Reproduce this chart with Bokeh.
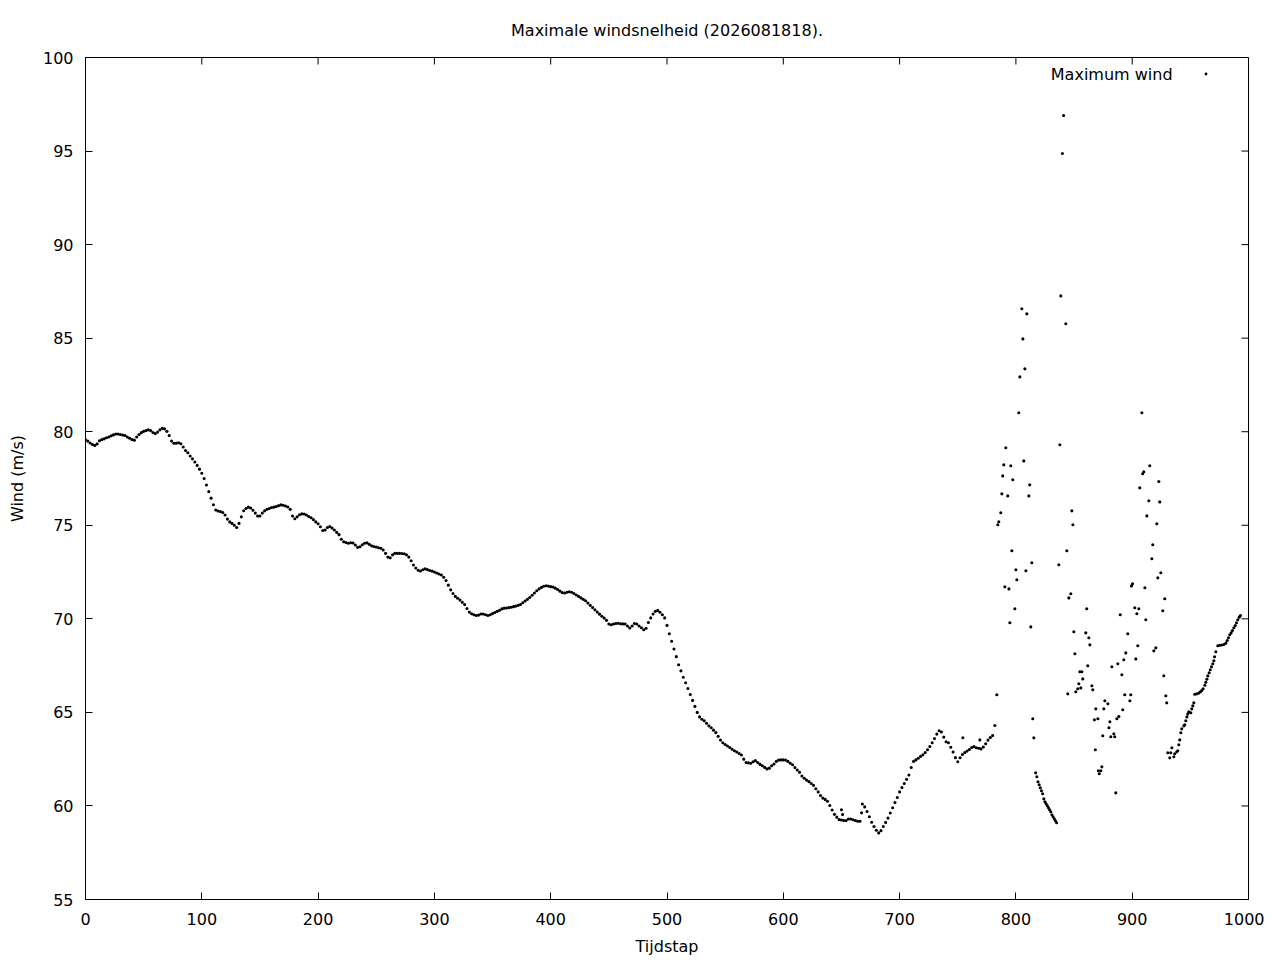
import math
from bokeh.plotting import figure
from bokeh.models import (Range1d, FixedTicker, Label, Legend,
                          LegendItem, ColumnDataSource)
from bokeh.embed import file_html
from bokeh.resources import INLINE

title_text = "Maximale windsnelheid (2026081818)."
x_label = "Tijdstap"
y_label = "Wind (m/s)"
series_name = "Maximum wind"

x_min, x_max = 0, 1000
y_min, y_max = 55, 100
x_ticks = [0, 100, 200, 300, 400, 500, 600, 700, 800, 900, 1000]
y_ticks = [55, 60, 65, 70, 75, 80, 85, 90, 95, 100]

# smooth part, every second time step (0..780)
smooth_t = list(range(0, 781, 2))
smooth_wind = [
    79.57, 79.5, 79.4, 79.32, 79.27, 79.35, 79.52, 79.58, 79.62, 79.68,
    79.72, 79.78, 79.83, 79.88, 79.88, 79.85, 79.82, 79.8, 79.72, 79.65,
    79.58, 79.55, 79.72, 79.85, 79.95, 80.02, 80.06, 80.1, 80.06, 79.96,
    79.9, 79.98, 80.1, 80.18, 80.15, 80.02, 79.8, 79.5, 79.38, 79.39,
    79.41, 79.36, 79.18, 79.0, 78.88, 78.7, 78.55, 78.38, 78.2, 78.0,
    77.78, 77.5, 77.15, 76.8, 76.45, 76.1, 75.82, 75.76, 75.73, 75.68,
    75.55, 75.33, 75.18, 75.1, 75.0, 74.88, 75.1, 75.45, 75.78, 75.9,
    75.97, 75.92, 75.8, 75.65, 75.5, 75.5, 75.65, 75.77, 75.85, 75.9,
    75.95, 75.97, 76.0, 76.05, 76.09, 76.07, 76.03, 75.98, 75.85, 75.5,
    75.35, 75.45, 75.56, 75.61, 75.6, 75.55, 75.47, 75.4, 75.3, 75.18,
    75.08, 74.92, 74.72, 74.75, 74.88, 74.93, 74.85, 74.75, 74.62, 74.5,
    74.25, 74.12, 74.08, 74.04, 74.07, 74.05, 73.95, 73.82, 73.85, 73.96,
    74.04, 74.06, 73.98, 73.9, 73.87, 73.84, 73.8, 73.77, 73.68, 73.5,
    73.3, 73.26, 73.42, 73.5, 73.5, 73.5, 73.49, 73.48, 73.42, 73.3,
    73.1, 72.88, 72.72, 72.6, 72.56, 72.62, 72.67, 72.63, 72.58, 72.55,
    72.5, 72.45, 72.4, 72.34, 72.22, 72.05, 71.8, 71.55, 71.35, 71.2,
    71.1, 71.0, 70.88, 70.76, 70.55, 70.36, 70.27, 70.22, 70.18, 70.2,
    70.26, 70.26, 70.22, 70.18, 70.22, 70.28, 70.34, 70.4, 70.46, 70.53,
    70.57, 70.58, 70.6, 70.62, 70.65, 70.68, 70.72, 70.77, 70.86, 70.95,
    71.04, 71.14, 71.26, 71.38, 71.5, 71.6, 71.68, 71.74, 71.77, 71.75,
    71.72, 71.7, 71.64, 71.57, 71.48, 71.4, 71.38, 71.42, 71.45, 71.42,
    71.35, 71.27, 71.2, 71.12, 71.04, 70.97, 70.85, 70.72, 70.6, 70.48,
    70.36, 70.25, 70.14, 70.04, 69.92, 69.72, 69.68, 69.72, 69.75, 69.76,
    69.74, 69.73, 69.72, 69.62, 69.51, 69.62, 69.75, 69.72, 69.62, 69.52,
    69.42, 69.5, 69.8, 70.05, 70.26, 70.4, 70.45, 70.35, 70.22, 70.05,
    69.65, 69.2, 68.8, 68.39, 67.98, 67.55, 67.22, 66.88, 66.58, 66.28,
    65.96, 65.64, 65.32, 65.0, 64.76, 64.63, 64.55, 64.42, 64.28, 64.18,
    64.05, 63.92, 63.72, 63.52, 63.38, 63.28, 63.2, 63.12, 63.03, 62.95,
    62.88, 62.8, 62.72, 62.5, 62.32, 62.3, 62.28, 62.36, 62.42, 62.32,
    62.22, 62.15, 62.06, 61.98, 62.02, 62.15, 62.24, 62.38, 62.45, 62.46,
    62.46, 62.45, 62.38, 62.28, 62.2, 62.05, 61.92, 61.8, 61.6, 61.48,
    61.38, 61.3, 61.2, 61.1, 60.92, 60.75, 60.56, 60.42, 60.35, 60.25,
    60.02, 59.78, 59.55, 59.4, 59.27, 59.25, 59.22, 59.22, 59.3, 59.3,
    59.26, 59.22, 59.18, 59.18, 60.1, 59.95, 59.7, 59.42, 59.13, 58.9,
    58.7, 58.56, 58.68, 58.9, 59.12, 59.35, 59.62, 59.9, 60.18, 60.45,
    60.75, 60.98, 61.2, 61.42, 61.65, 62.05, 62.38, 62.46, 62.55, 62.65,
    62.73, 62.85, 63.0, 63.18, 63.38, 63.6, 63.84, 64.02, 63.95, 63.68,
    63.43, 63.38, 63.14, 62.88, 62.58, 62.36, 62.58, 62.75, 62.85, 62.93,
    63.02, 63.12, 63.17, 63.11, 63.08, 63.05, 63.15, 63.32, 63.52, 63.66,
    63.76,
]

# isolated values and the scattered part (780..930)
scatter_t = [
    650.0, 651.0, 667.3, 754.4, 769.0, 781.9, 783.6,
    784.4, 785.3, 787.0, 787.9, 788.7, 789.6, 790.5, 791.3, 793.0, 794.0,
    794.8, 795.6, 796.5, 797.3, 799.1, 800.0, 800.8, 802.5, 803.4, 805.1,
    806.0, 806.8, 807.7, 808.6, 809.4, 811.1, 811.9, 812.8, 813.7, 814.5,
    815.4,
    817, 818, 819, 820, 821, 822, 823, 824, 825, 826, 827, 828, 829, 830,
    831, 832, 833, 834, 835,
    836.9, 837.8, 838.6, 840.0, 841.0, 842.9, 843.8, 844.6, 845.5, 847.2,
    848.1, 849.0, 849.8, 850.7, 851.5, 853.2, 854.1, 855.0, 855.8, 856.7,
    857.5, 860.1, 860.9, 861.8, 862.7, 863.6, 865.3, 866.1, 867.5, 868.3,
    868.7, 870.5, 870.9, 871.7, 873.0, 873.9, 874.7, 875.6, 876.5, 879.1,
    880.0, 880.8, 881.6, 882.5, 884.2, 885.0, 885.9, 886.8, 887.6, 888.5,
    889.7, 891.1, 891.9, 892.8, 893.6, 894.5, 896.2, 898.0, 898.8, 899.4,
    900.3, 902.2, 903.1, 904.0, 904.8, 905.7, 906.5, 908.3, 909.0, 910.0,
    910.9, 911.7, 912.6, 914.3, 915.1, 916.9, 917.7, 918.6, 920.3, 921.2,
    922.0, 922.9, 923.7, 924.6, 926.3, 927.2, 928.0, 928.9, 929.7,
]
scatter_wind = [
    59.8, 59.54, 59.63, 63.64, 63.53, 64.3, 65.94,
    75.03, 75.19, 75.67, 76.68, 77.64, 78.23, 71.71, 79.14, 76.57, 71.6,
    69.79, 78.18, 73.64, 77.43, 70.54, 72.62, 72.09, 81.01, 82.93, 86.57,
    84.96, 78.44, 83.36, 72.57, 86.3, 76.57, 77.16, 69.57, 73.0, 64.66,
    63.64,
    61.77, 61.56, 61.29, 61.13, 60.97, 60.81, 60.65, 60.38, 60.22, 60.12,
    60.01, 59.9, 59.79, 59.69, 59.53, 59.42, 59.31, 59.21, 59.1,
    72.89, 79.3, 87.26, 94.87, 96.9, 85.77, 73.64, 65.99, 71.12, 71.34,
    75.77, 75.03, 69.31, 68.13, 66.1, 66.26, 66.53, 67.17, 66.31, 67.17,
    66.79, 69.25, 70.54, 67.49, 68.99, 68.61, 66.42, 66.21, 64.6, 63.0,
    65.19, 64.66, 61.88, 61.72, 61.88, 62.09, 63.75, 65.19, 65.62, 65.46,
    64.18, 64.5, 63.7, 67.44, 63.86, 63.7, 60.7, 64.66, 67.6, 64.78,
    70.22, 67.01, 65.14, 67.81, 65.94, 68.18, 69.2, 65.62, 65.94, 71.76,
    71.87, 70.59, 67.86, 70.27, 68.56, 70.54, 77.0, 81.01, 77.75, 77.86,
    71.66, 69.95, 75.5, 76.31, 78.18, 73.21, 73.96, 68.29, 68.45, 75.08,
    72.19, 77.34, 76.25, 72.46, 70.43, 66.96, 71.07, 65.89, 65.51,
]

# final rising part (930..993)
tail_t = [
    930.6, 932.3, 933.2, 934.1, 935.8, 936.6, 938.3, 939.2, 940.1, 940.9,
    941.8, 942.6, 944.4, 945.2, 946.1, 947.0, 947.8, 948.7, 950.4, 951.2,
    952.1, 953.0, 953.8, 955.5, 957.3, 958.7, 959.8, 961.0, 962.5, 963.3,
    964.2, 965.0, 966.2, 967.1, 968.2, 969.3, 970.2, 970.8, 971.9, 973.6,
    975.3, 977.0, 978.8, 980.5, 981.7, 982.8, 983.9, 985.1, 986.2, 987.4,
    988.6, 989.7, 990.8, 992.0, 993.1,
]
tail_wind = [
    62.84, 62.57, 62.84, 63.11, 62.63, 62.79, 62.89, 62.95, 63.27, 63.53,
    63.91, 64.12, 64.28, 64.34, 64.55, 64.76, 64.92, 65.03, 64.98, 65.19,
    65.35, 65.51, 65.97, 65.99, 66.03, 66.1, 66.17, 66.26, 66.45, 66.61,
    66.77, 66.95, 67.12, 67.28, 67.44, 67.6, 67.76, 67.97, 68.24, 68.56,
    68.59, 68.6, 68.63, 68.7, 68.84, 68.99, 69.15, 69.25, 69.38, 69.52,
    69.64, 69.79, 69.95, 70.09, 70.18,
]

FONT = "DejaVu Sans"
FS = "16px"
TICK = 7

source = ColumnDataSource(data=dict(
    t=smooth_t + scatter_t + tail_t,
    wind=smooth_wind + scatter_wind + tail_wind,
))

p = figure(width=1264, height=958, output_backend="svg", toolbar_location=None,
           x_range=Range1d(x_min, x_max), y_range=Range1d(y_min, y_max),
           min_border_left=85, min_border_right=16,
           min_border_top=57, min_border_bottom=59,
           title=title_text, background_fill_color="white",
           border_fill_color="white")

p.title.align = "center"
p.title.text_font = FONT
p.title.text_font_size = FS
p.title.text_font_style = "normal"
p.title.text_color = "black"
p.title.standoff = 35

p.grid.visible = False
p.outline_line_color = "black"
p.outline_line_width = 1
p.outline_line_alpha = 1

r = p.scatter("t", "wind", source=source, marker="circle", size=3.1,
              fill_color="black", line_color=None)

def style_axis(ax):
    ax.axis_line_color = "black"
    ax.major_tick_line_color = "black"
    ax.major_tick_in = TICK
    ax.major_tick_out = 0
    ax.minor_tick_in = 0
    ax.minor_tick_out = 0
    ax.minor_tick_line_color = None
    ax.major_label_text_font = FONT
    ax.major_label_text_font_size = FS
    ax.major_label_text_color = "black"
    ax.axis_label_text_font = FONT
    ax.axis_label_text_font_size = FS
    ax.axis_label_text_font_style = "normal"
    ax.axis_label_text_color = "black"

xa = p.xaxis[0]
xa.ticker = FixedTicker(ticks=x_ticks)
style_axis(xa)
xa.major_label_standoff = 13
xa.axis_label = x_label
xa.axis_label_standoff = 9

ya = p.yaxis[0]
ya.ticker = FixedTicker(ticks=y_ticks)
style_axis(ya)
ya.major_label_standoff = 12
ya.axis_label = y_label
ya.axis_label_standoff = 13

# mirrored inward ticks on the top and right border
p.ray(x=x_ticks, y=[y_max] * len(x_ticks), length=TICK, length_units="screen",
      angle=-math.pi / 2, line_color="black", line_width=1)
p.ray(x=[x_max] * len(y_ticks), y=y_ticks, length=TICK, length_units="screen",
      angle=math.pi, line_color="black", line_width=1)

# key: text left of the sample, as in the original
key_text = Label(x=934.7, y=99.09, text=series_name, text_align="right",
                 text_baseline="middle", text_font=FONT, text_font_size=FS,
                 text_color="black")
p.add_layout(key_text)

legend = Legend(items=[LegendItem(label=" ", renderers=[r])],
                location=(1116.5, 822.5), margin=0, padding=0, spacing=0,
                glyph_width=7, glyph_height=7, label_standoff=0,
                label_width=0, label_height=0, label_text_font_size="1px",
                border_line_alpha=0, background_fill_alpha=0)
p.add_layout(legend)

open("out.html", "w").write(file_html(p, INLINE))
